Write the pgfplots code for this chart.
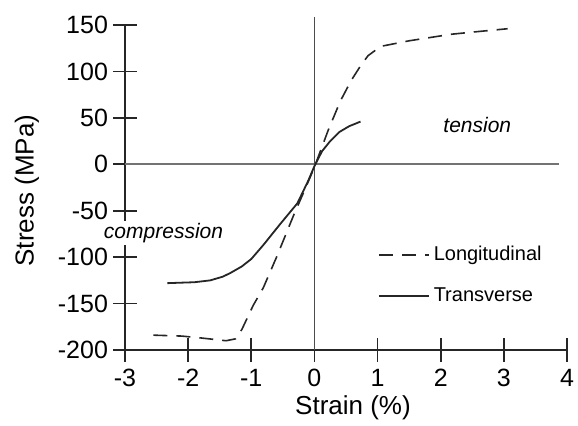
\documentclass[border=0pt]{standalone}
\usepackage{pgfplots}
\pgfplotsset{compat=1.18}
\usepackage{fontspec}
\setmainfont{Liberation Sans}
\begin{document}
\begin{tikzpicture}
\begin{axis}[
  name=ax,
  scale only axis,
  width=221pt, height=162.5pt,
  xmin=-3, xmax=4, ymin=-200, ymax=150,
  axis x line*=bottom, axis y line*=left,
  axis line style={-, black!85, line width=0.8pt},
  xtick={-3,...,4}, ytick={-200,-150,...,150},
  xtick pos=left, ytick pos=left,
  xtick align=center, ytick align=center, major tick length=12pt,
  tick style={black!85, line width=0.8pt},
  /pgf/number format/assume math mode=true,
  ticklabel style={font=\fontsize{12.5}{14}\selectfont},
  xticklabel style={yshift=0pt},
  yticklabel style={xshift=1pt},
  xlabel={Strain (\%)}, ylabel={Stress (MPa)},
  every axis x label/.style={at={([xshift=3.5pt,yshift=-29pt]axis description cs:0.5,0)}, anchor=center, font=\fontsize{13}{15}\selectfont},
  every axis y label/.style={at={([xshift=-49pt,yshift=-1.5pt]axis description cs:0,0.5)}, rotate=90, anchor=center, font=\fontsize{13}{15}\selectfont},
  clip=false,
  legend style={at={(axis cs:1.0,-100)}, anchor=west, draw=none, fill=none,
    inner sep=0pt, row sep=8pt, font=\fontsize{10}{12}\selectfont,
    legend cell align=left, yshift=-9pt},
  legend image code/.code={\draw[#1] (0pt,0pt) -- (25pt,0pt);},
]
% reference lines through the origin
\addplot[black!55, line width=0.9pt, forget plot] coordinates {(-3,0) (3.87,0)};
\addplot[black!70, line width=0.7pt, forget plot] coordinates {(0,-200) (0,159)};

\addplot[black!85, line width=0.8pt, dash pattern=on 7pt off 4.5pt] coordinates {
(-2.55,-184) (-2.1,-185) (-1.8,-187) (-1.4,-190) (-1.25,-188) (-1.15,-178)
(-0.97,-152) (-0.81,-133) (-0.6,-100) (-0.33,-55) (-0.15,-27) (0,-3)
(0.22,37) (0.41,68) (0.58,90) (0.73,106) (0.85,117) (1.05,127)
(1.5,133) (2.16,140) (2.6,143) (3.06,146)
};
\addlegendentry{Longitudinal}

\addplot[black!85, line width=0.9pt] coordinates {
(-2.33,-128) (-1.9,-127) (-1.65,-125) (-1.45,-121) (-1.33,-117) (-1.15,-110)
(-1.0,-102) (-0.81,-87) (-0.55,-65) (-0.27,-42) (-0.1,-18) (0,-2)
(0.12,14) (0.25,25) (0.4,35) (0.55,41) (0.73,46)
};
\addlegendentry{Transverse}

\node[font=\fontsize{10.5}{12}\selectfont\itshape] at (axis cs:2.58,42) {tension};
\node[font=\fontsize{10.5}{12}\selectfont\itshape, fill=white, inner sep=1pt] at (axis cs:-2.39,-74) {compression};
\end{axis}
\pgfresetboundingbox
\path ([shift={(-62.5pt,-37.5pt)}]ax.south west) rectangle ([shift={(226.5pt,175pt)}]ax.south west);
\end{tikzpicture}
\end{document}
